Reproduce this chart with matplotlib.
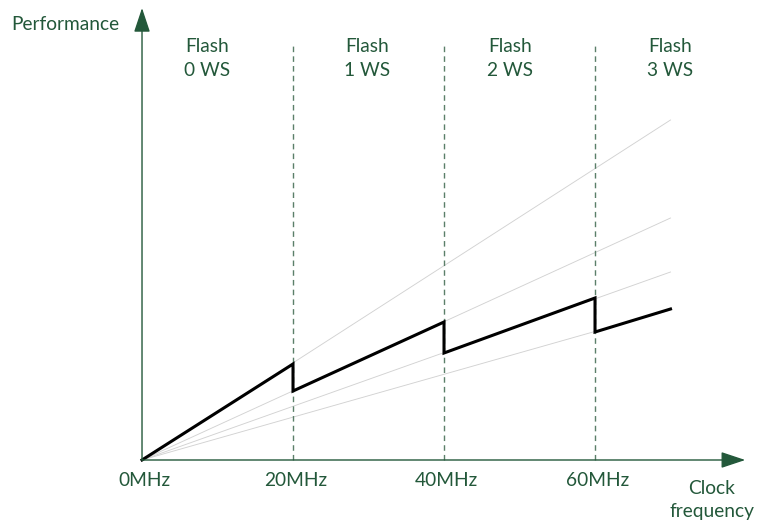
import matplotlib.pyplot as plt

# clock frequency (MHz) for the tick labels and wait-state boundaries
ticks_mhz = [0, 20, 40, 60]
tick_labels = ["0MHz", "20MHz", "40MHz", "60MHz"]
boundaries = [20, 40, 60]

# ideal performance lines (one per wait-state count), from 0 up to 70 MHz
ref_end_mhz = 70
ref_end_perf = [340, 242, 188, 150]

# actual performance (sawtooth)
perf_mhz = [0, 20, 20, 40, 40, 60, 60, 70]
perf_val = [0, 96, 69, 138, 107, 162, 128, 151]

# region labels
ws_labels = ["Flash\n0 WS", "Flash\n1 WS", "Flash\n2 WS", "Flash\n3 WS"]
ws_label_x = [8.6, 29.8, 48.7, 70]

green = "#23583a"
dash_col = "#5b7f69"
font = "Lato"
fs = 13.8

fig = plt.figure(figsize=(7.71, 5.21), dpi=100)
ax = fig.add_axes([0, 0, 1, 1])
ax.set_xlim(-18.81, 83.31)
ax.set_ylim(-61, 460)
ax.axis("off")

# reference lines
for e in ref_end_perf:
    ax.plot([0, ref_end_mhz], [0, e], color="#d2d2d2", lw=0.65, zorder=1)

# dashed boundaries
for b in boundaries:
    ax.plot([b, b], [0, 415], color=dash_col, lw=1, ls=(0, (4, 3)), zorder=2)

# sawtooth performance
ax.plot(perf_mhz, perf_val, color="black", lw=2.2, zorder=3,
        solid_joinstyle="miter")

# axes with arrow heads
arrow = dict(arrowstyle="-|>,head_length=1.5,head_width=0.5",
             color=green, lw=1.0, shrinkA=0, shrinkB=0)
ax.annotate("", xy=(79.9, 0), xytext=(0, 0), arrowprops=arrow)
ax.annotate("", xy=(0, 452), xytext=(0, 0), arrowprops=arrow)

for t, lab in zip(ticks_mhz, tick_labels):
    ax.text(t + 0.3, -20, lab, color=green, fontsize=fs, family=font,
            ha="center", va="center")

for x, lab in zip(ws_label_x, ws_labels):
    ax.text(x, 401, lab, color=green, fontsize=fs, family=font,
            ha="center", va="center", linespacing=1.5)

ax.text(-10.2, 436, "Performance", color=green, fontsize=fs, family=font,
        ha="center", va="center")
ax.text(75.5, -40, "Clock\nfrequency", color=green, fontsize=fs,
        family=font, ha="center", va="center", linespacing=1.5)

fig.savefig("out.png", dpi=100)
